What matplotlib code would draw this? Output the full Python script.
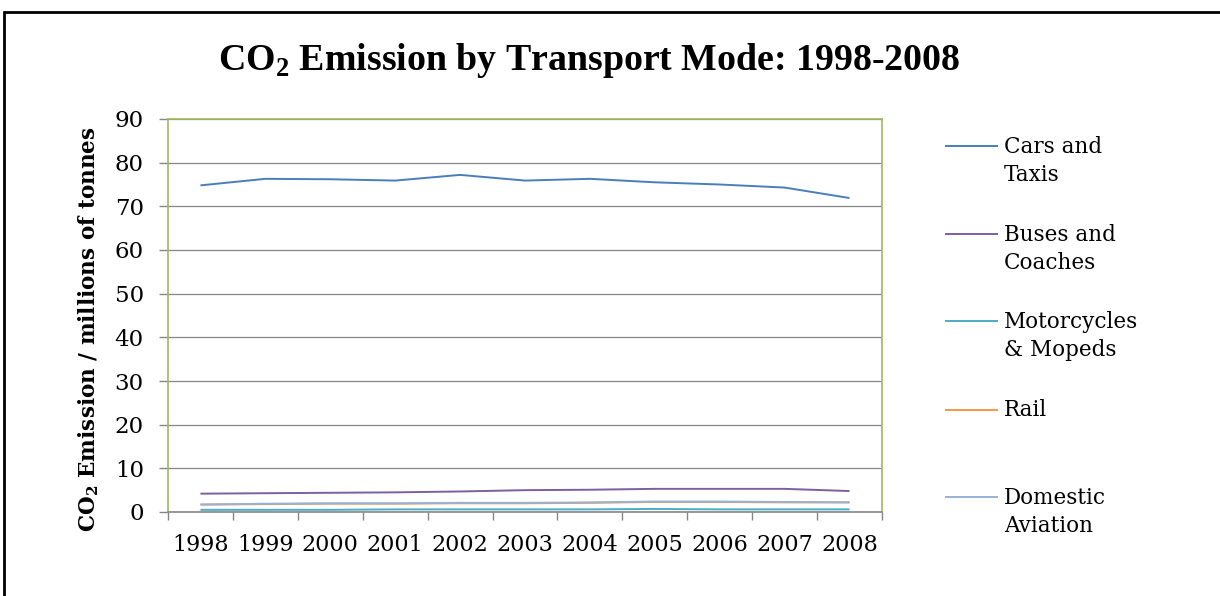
"""
CO2 emission by transport mode, 1998-2008 (Excel-style line chart)
"""
import matplotlib
matplotlib.use('Agg')
import matplotlib.pyplot as plt
from matplotlib.lines import Line2D
from matplotlib.patches import Rectangle

# data
years = ['1998', '1999', '2000', '2001', '2002', '2003',
         '2004', '2005', '2006', '2007', '2008']
cars_taxis = [74.8, 76.3, 76.2, 75.9, 77.2, 75.9, 76.3, 75.5, 75.0, 74.3, 71.9]
buses_coaches = [4.2, 4.3, 4.4, 4.5, 4.7, 5.0, 5.1, 5.3, 5.3, 5.3, 4.8]
motorcycles = [0.5, 0.5, 0.5, 0.6, 0.6, 0.6, 0.6, 0.7, 0.6, 0.6, 0.6]
rail = [1.7, 1.8, 1.9, 1.9, 2.0, 2.0, 2.1, 2.3, 2.3, 2.2, 2.2]
aviation = [1.7, 1.9, 2.0, 2.0, 2.1, 2.1, 2.2, 2.4, 2.4, 2.3, 2.2]

series_names = ['Cars and\nTaxis', 'Buses and\nCoaches', 'Motorcycles\n& Mopeds',
                'Rail', 'Domestic\nAviation']
series_values = [cars_taxis, buses_coaches, motorcycles, rail, aviation]
series_colors = ['#4A7EBB', '#7D5FA0', '#4BACC6', '#F79646', '#95B3D7']

y_ticks = [0, 10, 20, 30, 40, 50, 60, 70, 80, 90]

FONT = 'DejaVu Serif'
TITLE_FONT = 'Liberation Serif'
plt.rcParams['font.family'] = FONT
plt.rcParams['mathtext.fontset'] = 'custom'
plt.rcParams['mathtext.rm'] = FONT
plt.rcParams['mathtext.bf'] = TITLE_FONT + ':bold'   # subscript in the title
plt.rcParams['mathtext.sf'] = FONT + ':bold'         # subscript in the y label

W, H = 1220, 596
fig = plt.figure(figsize=(W / 100, H / 100), dpi=100)

def fx(px):
    return px / W

def fy(py):
    return 1 - py / H

# outer frame (runs off the right and bottom edges)
fig.add_artist(Rectangle((fx(4), -0.1), 1.2, fy(12) + 0.1, transform=fig.transFigure,
                         fill=False, edgecolor='black', linewidth=2))

ax = fig.add_axes([fx(168), fy(512), fx(882) - fx(168), fy(119) - fy(512)])

x = list(range(len(years)))
for vals, col in zip(series_values, series_colors):
    ax.plot(x, vals, color=col, linewidth=1.4, solid_capstyle='butt', zorder=3)

ax.set_xlim(-0.5, len(years) - 0.5)
ax.set_ylim(0, 90)
ax.set_yticks(y_ticks)
ax.set_xticks(x)
ax.set_xticklabels(years)
ax.set_xticks([i - 0.5 for i in range(len(years) + 1)], minor=True)
ax.tick_params(axis='x', which='major', length=0, pad=16, labelsize=16)
ax.tick_params(axis='x', which='minor', length=6, width=1, color='#868686', direction='out')
ax.tick_params(axis='y', length=6.5, width=1, color='#868686', pad=11, labelsize=16.5)

ax.grid(axis='y', color='#868686', linewidth=0.9, zorder=1)
ax.set_axisbelow(True)
for side in ['left', 'top', 'right']:
    ax.spines[side].set_color('#9BBB59')
    ax.spines[side].set_linewidth(1.2)
ax.spines['bottom'].set_color('#868686')
ax.spines['bottom'].set_linewidth(1.2)

# title and axis label
fig.text(fx(589), fy(61), r'CO$_\mathbf{2}$ Emission by Transport Mode: 1998-2008',
         ha='center', va='center', fontsize=27.3, fontweight='bold', family=TITLE_FONT)
fig.text(fx(89), fy(329), r'CO$_\mathsf{2}$ Emission / millions of tonnes',
         rotation=90, ha='center', va='center', fontsize=15.5, fontweight='bold')

# legend drawn by hand to keep Excel's spacing
legend_y = [146, 234, 321, 410, 497]
for name, col, ly in zip(series_names, series_colors, legend_y):
    fig.add_artist(Line2D([fx(946), fx(997)], [fy(ly), fy(ly)], color=col,
                          linewidth=1.4, transform=fig.transFigure))
    n = name.count('\n')
    fig.text(fx(1004), fy(ly + n * 15), name, ha='left', va='center',
             fontsize=15.5, linespacing=1.4)

fig.savefig('out.png', dpi=100, facecolor='white')
